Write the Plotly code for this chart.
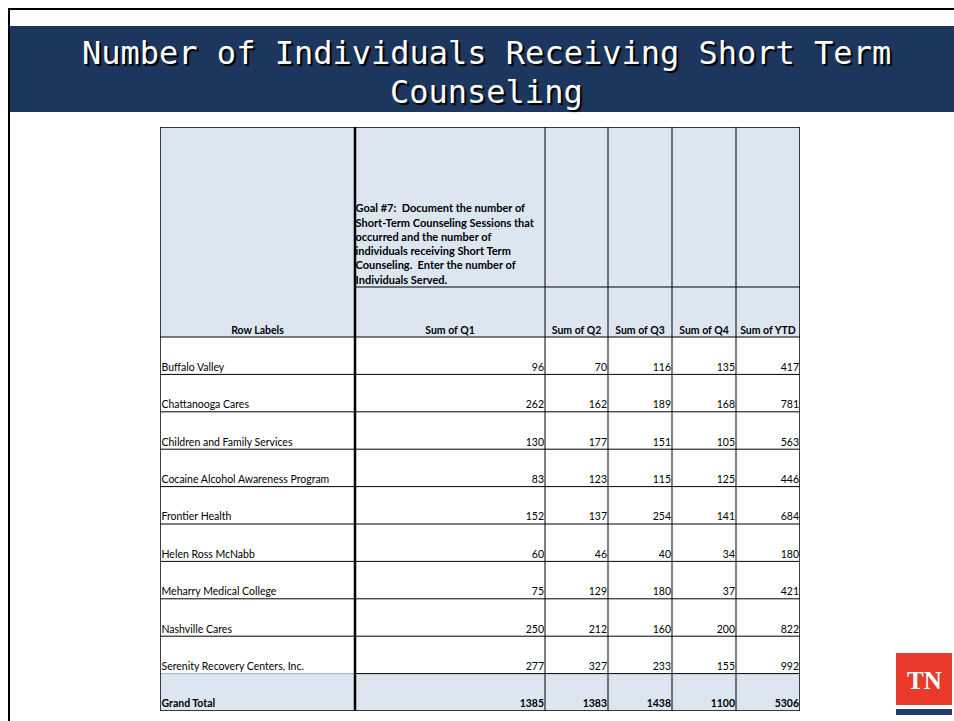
import plotly.graph_objects as go

# ---------------- data ----------------
providers = [
    "Buffalo Valley",
    "Chattanooga Cares",
    "Children and Family Services",
    "Cocaine Alcohol Awareness Program",
    "Frontier Health",
    "Helen Ross McNabb",
    "Meharry Medical College",
    "Nashville Cares",
    "Serenity Recovery Centers, Inc.",
]
q1 = [96, 262, 130, 83, 152, 60, 75, 250, 277]
q2 = [70, 162, 177, 123, 137, 46, 129, 212, 327]
q3 = [116, 189, 151, 115, 254, 40, 180, 160, 233]
q4 = [135, 168, 105, 125, 141, 34, 37, 200, 155]
ytd = [417, 781, 563, 446, 684, 180, 421, 822, 992]
total_label = "Grand Total"
totals = [1385, 1383, 1438, 1100, 5306]
col_headers = ["Row Labels", "Sum of Q1", "Sum of Q2", "Sum of Q3", "Sum of Q4", "Sum of YTD"]
goal_text = ("Goal #7:  Document the number of<br>Short-Term Counseling Sessions that<br>"
             "occurred and the number of<br>individuals receiving Short Term<br>"
             "Counseling.  Enter the number of<br>Individuals Served.")
title_line1 = "Number of Individuals Receiving Short Term"
title_line2 = "Counseling"

# ---------------- style / layout ----------------
W, H = 954, 721
COL_W = [195, 190, 63, 64, 64, 64]
HDR1_H, HDR2_H, ROW_H = 160, 50, 37.4
TBL_L, TBL_T = 160, 127
HDR_FILL = "#dce6f1"
NAVY = "#1d365d"
FONT = "Lato, Liberation Sans, Arial"
FS = 10.5

col_edges = [0]
for w in COL_W:
    col_edges.append(col_edges[-1] + w)
tbl_w = col_edges[-1]
n_rows = len(providers) + 1
row_edges = [0, HDR1_H, HDR1_H + HDR2_H]
for i in range(n_rows):
    row_edges.append(row_edges[-1] + ROW_H)
tbl_h = row_edges[-1]

def px(x):
    return x / W

def py(y):
    return 1 - y / H

fig = go.Figure()
shapes = []
annotations = []

# cell fills
shapes.append(dict(type="rect", xref="x", yref="y", x0=0, x1=tbl_w, y0=0, y1=row_edges[2],
                   fillcolor=HDR_FILL, line_width=0, layer="below"))
shapes.append(dict(type="rect", xref="x", yref="y", x0=0, x1=tbl_w, y0=row_edges[-2], y1=row_edges[-1],
                   fillcolor=HDR_FILL, line_width=0, layer="below"))

# horizontal lines
for i, y in enumerate(row_edges):
    if i == len(row_edges) - 2:
        shapes.append(dict(type="line", xref="x", yref="y", x0=0, x1=col_edges[1], y0=y, y1=y,
                           line=dict(color="#95b3d7", width=1)))
        shapes.append(dict(type="line", xref="x", yref="y", x0=col_edges[1], x1=tbl_w, y0=y, y1=y,
                           line=dict(color="black", width=1)))
    elif i == 1:
        shapes.append(dict(type="line", xref="x", yref="y", x0=col_edges[1], x1=tbl_w, y0=y, y1=y,
                           line=dict(color="black", width=1)))
    else:
        shapes.append(dict(type="line", xref="x", yref="y", x0=0, x1=tbl_w, y0=y, y1=y,
                           line=dict(color="black", width=1.5 if i in (0, len(row_edges) - 1) else 1)))
# vertical lines
for j, x in enumerate(col_edges):
    shapes.append(dict(type="line", xref="x", yref="y", x0=x, x1=x, y0=0, y1=tbl_h,
                       line=dict(color="black", width=2.5 if j == 1 else (1.5 if j in (0, len(col_edges) - 1) else 1))))

# header texts
hdr_y = [row_edges[2] - 0.5] * len(col_headers)
hdr_x = [(col_edges[j] + col_edges[j + 1]) / 2 for j in range(len(col_headers))]
fig.add_trace(go.Scatter(x=hdr_x, y=hdr_y, mode="text", text=[f"<b>{t}</b>" for t in col_headers],
                         textposition="top center", textfont=dict(family=FONT, size=FS, color="black"),
                         hoverinfo="skip", showlegend=False))
fig.add_trace(go.Scatter(x=[col_edges[1] + 0.5], y=[row_edges[1] - 0.5], mode="text", text=[f"<b>{goal_text}</b>"],
                         textposition="top right", textfont=dict(family=FONT, size=11, color="black"),
                         hoverinfo="skip", showlegend=False))

# row labels
row_bottoms = [row_edges[3 + i] - 1 for i in range(len(providers))]
fig.add_trace(go.Scatter(x=[1.5] * len(providers), y=row_bottoms, mode="text", text=providers,
                         textposition="top right", textfont=dict(family=FONT, size=FS, color="black"),
                         hoverinfo="skip", showlegend=False))
fig.add_trace(go.Scatter(x=[1.5], y=[row_edges[-1] - 1], mode="text", text=[f"<b>{total_label}</b>"],
                         textposition="top right", textfont=dict(family=FONT, size=FS, color="black"),
                         hoverinfo="skip", showlegend=False))

# values
for j, series in enumerate([q1, q2, q3, q4, ytd]):
    xr = col_edges[j + 2] - 1
    fig.add_trace(go.Scatter(x=[xr] * len(series), y=row_bottoms, mode="text", text=[str(v) for v in series],
                             textposition="top left", textfont=dict(family=FONT, size=FS, color="black"),
                             hoverinfo="skip", showlegend=False))
fig.add_trace(go.Scatter(x=[col_edges[j + 2] - 1 for j in range(len(totals))], y=[row_edges[-1] - 1] * len(totals),
                         mode="text", text=[f"<b>{v}</b>" for v in totals], textposition="top left",
                         textfont=dict(family=FONT, size=FS, color="black"),
                         hoverinfo="skip", showlegend=False))

# slide frame
shapes.append(dict(type="line", xref="paper", yref="paper", x0=px(8), x1=px(954), y0=py(9), y1=py(9),
                   line=dict(color="black", width=2)))
shapes.append(dict(type="line", xref="paper", yref="paper", x0=px(9), x1=px(9), y0=py(8), y1=py(721),
                   line=dict(color="black", width=2)))
# title bar
shapes.append(dict(type="rect", xref="paper", yref="paper", x0=px(10), x1=px(954), y0=py(112), y1=py(26),
                   fillcolor=NAVY, line_width=0))
for txt, yc in [(title_line1, 53), (title_line2, 92)]:
    annotations.append(dict(xref="paper", yref="paper", x=px(487), y=py(yc), text=txt, showarrow=False,
                            xanchor="center", yanchor="middle",
                            font=dict(family="DejaVu Sans Mono", size=32, color="white",
                                      shadow="2px 2px 1px #000000")))
# TN logo
shapes.append(dict(type="rect", xref="paper", yref="paper", x0=px(896), x1=px(952), y0=py(705), y1=py(653),
                   fillcolor="#e8392a", line_width=0))
shapes.append(dict(type="rect", xref="paper", yref="paper", x0=px(896), x1=px(952), y0=py(715), y1=py(709),
                   fillcolor="#1f3a70", line_width=0))
annotations.append(dict(xref="paper", yref="paper", x=px(924), y=py(680), text="<b>TN</b>", showarrow=False,
                        xanchor="center", yanchor="middle",
                        font=dict(family="Liberation Serif", size=25, color="white")))

fig.update_layout(
    width=W, height=H, margin=dict(l=0, r=0, t=0, b=0),
    paper_bgcolor="white", plot_bgcolor="white",
    xaxis=dict(domain=[px(TBL_L), px(TBL_L + tbl_w)], range=[0, tbl_w], visible=False, fixedrange=True),
    yaxis=dict(domain=[py(TBL_T + tbl_h), py(TBL_T)], range=[tbl_h, 0], visible=False, fixedrange=True),
    shapes=shapes, annotations=annotations, showlegend=False,
)
fig.write_html("out.html", config={"displayModeBar": False},
               post_script="document.body.style.margin='0';document.body.style.overflow='hidden';")
